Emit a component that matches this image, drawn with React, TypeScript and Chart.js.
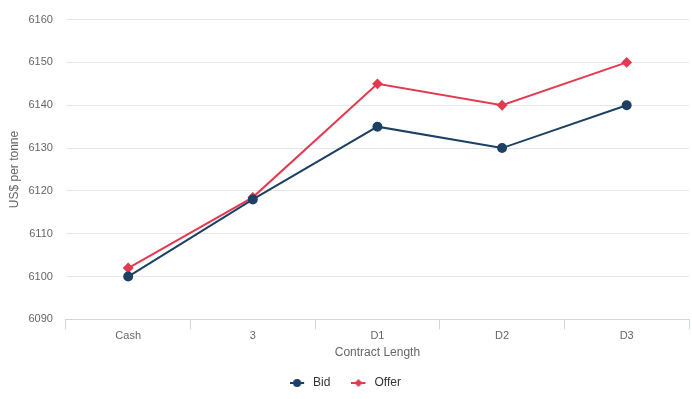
import React, { useEffect, useRef } from "react";
import { Chart, registerables } from "chart.js";

Chart.register(...registerables);

const categories = ["Cash", "3", "D1", "D2", "D3"];
const bidValues = [6100, 6118, 6135, 6130, 6140];
const offerValues = [6102, 6118.5, 6145, 6140, 6150];
const yMin = 6090;
const yMax = 6160;
const yStep = 10;

const BID_COLOR = "#1c4164";
const OFFER_COLOR = "#e23b50";
const FONT = "'Liberation Sans', Arial, sans-serif";

function legendIcon(color: string, style: "circle" | "diamond") {
  const c = document.createElement("canvas");
  c.width = 17;
  c.height = 10;
  const ctx = c.getContext("2d")!;
  ctx.strokeStyle = color;
  ctx.lineWidth = 2;
  ctx.beginPath();
  ctx.moveTo(0, 5);
  ctx.lineTo(14, 5);
  ctx.stroke();
  ctx.fillStyle = color;
  ctx.beginPath();
  if (style === "circle") {
    ctx.arc(7, 5, 4, 0, Math.PI * 2);
  } else {
    ctx.moveTo(7, 1);
    ctx.lineTo(11, 5);
    ctx.lineTo(7, 9);
    ctx.lineTo(3, 5);
    ctx.closePath();
  }
  ctx.fill();
  return c;
}

export default function App() {
  const ref = useRef<HTMLCanvasElement | null>(null);
  useEffect(() => {
    if (!ref.current) return;
    const icons = [legendIcon(BID_COLOR, "circle"), legendIcon(OFFER_COLOR, "diamond")];
    const chart = new Chart(ref.current, {
      type: "line",
      data: {
        labels: categories,
        datasets: [
          {
            label: "Bid",
            data: bidValues,
            borderColor: BID_COLOR,
            backgroundColor: BID_COLOR,
            borderWidth: 2,
            pointStyle: "circle",
            pointRadius: 4,
            pointHoverRadius: 4,
            tension: 0,
          },
          {
            label: "Offer",
            data: offerValues,
            borderColor: OFFER_COLOR,
            backgroundColor: OFFER_COLOR,
            borderWidth: 2,
            pointStyle: "rectRot",
            pointRadius: 4,
            pointHoverRadius: 4,
            tension: 0,
          },
        ],
      },
      options: {
        animation: false,
        responsive: false,
        maintainAspectRatio: false,
        layout: { padding: { left: 0, right: 4, top: 12, bottom: 0 } },
        plugins: {
          tooltip: { enabled: false },
          legend: {
            position: "bottom",
            labels: {
              usePointStyle: true,
              pointStyleWidth: 17,
              color: "#333333",
              font: { family: FONT, size: 12 },
              padding: 21,
              boxHeight: 10,
              generateLabels: (ch: any) =>
                ch.data.datasets.map((ds: any, i: number) => ({
                  text: ds.label,
                  fillStyle: ds.backgroundColor,
                  strokeStyle: ds.borderColor,
                  lineWidth: 0,
                  pointStyle: icons[i],
                  hidden: false,
                  datasetIndex: i,
                  fontColor: "#333333",
                })),
            },
          },
        },
        scales: {
          x: {
            type: "category",
            offset: true,
            border: { display: true, color: "#ccd6eb", width: 1 },
            grid: {
              offset: true,
              drawOnChartArea: false,
              drawTicks: true,
              tickLength: 10,
              color: "#ccd6eb",
            },
            ticks: {
              color: "#666666",
              font: { family: FONT, size: 11 },
              padding: 0,
              maxRotation: 0,
            },
            title: {
              display: true,
              text: "Contract Length",
              color: "#666666",
              font: { family: FONT, size: 12 },
              padding: { top: 3, bottom: -4 },
            },
          },
          y: {
            min: yMin,
            max: yMax,
            border: { display: false },
            grid: { color: "#e6e6e6", drawTicks: false, lineWidth: 1 },
            ticks: {
              stepSize: yStep,
              color: "#666666",
              font: { family: FONT, size: 11 },
              padding: 13,
              callback: (v: any) => String(v),
            },
            title: {
              display: true,
              text: "US$ per tonne",
              color: "#666666",
              font: { family: FONT, size: 12 },
              padding: { top: 7, bottom: -6 },
            },
          },
        },
      },
    });
    return () => chart.destroy();
  }, []);
  return (
    <div
      style={{
        position: "fixed",
        left: 0,
        top: 0,
        width: 692,
        height: 399,
        overflow: "hidden",
        background: "#fff",
      }}
    >
      <canvas ref={ref} width={695} height={399} style={{ display: "block" }} />
    </div>
  );
}
